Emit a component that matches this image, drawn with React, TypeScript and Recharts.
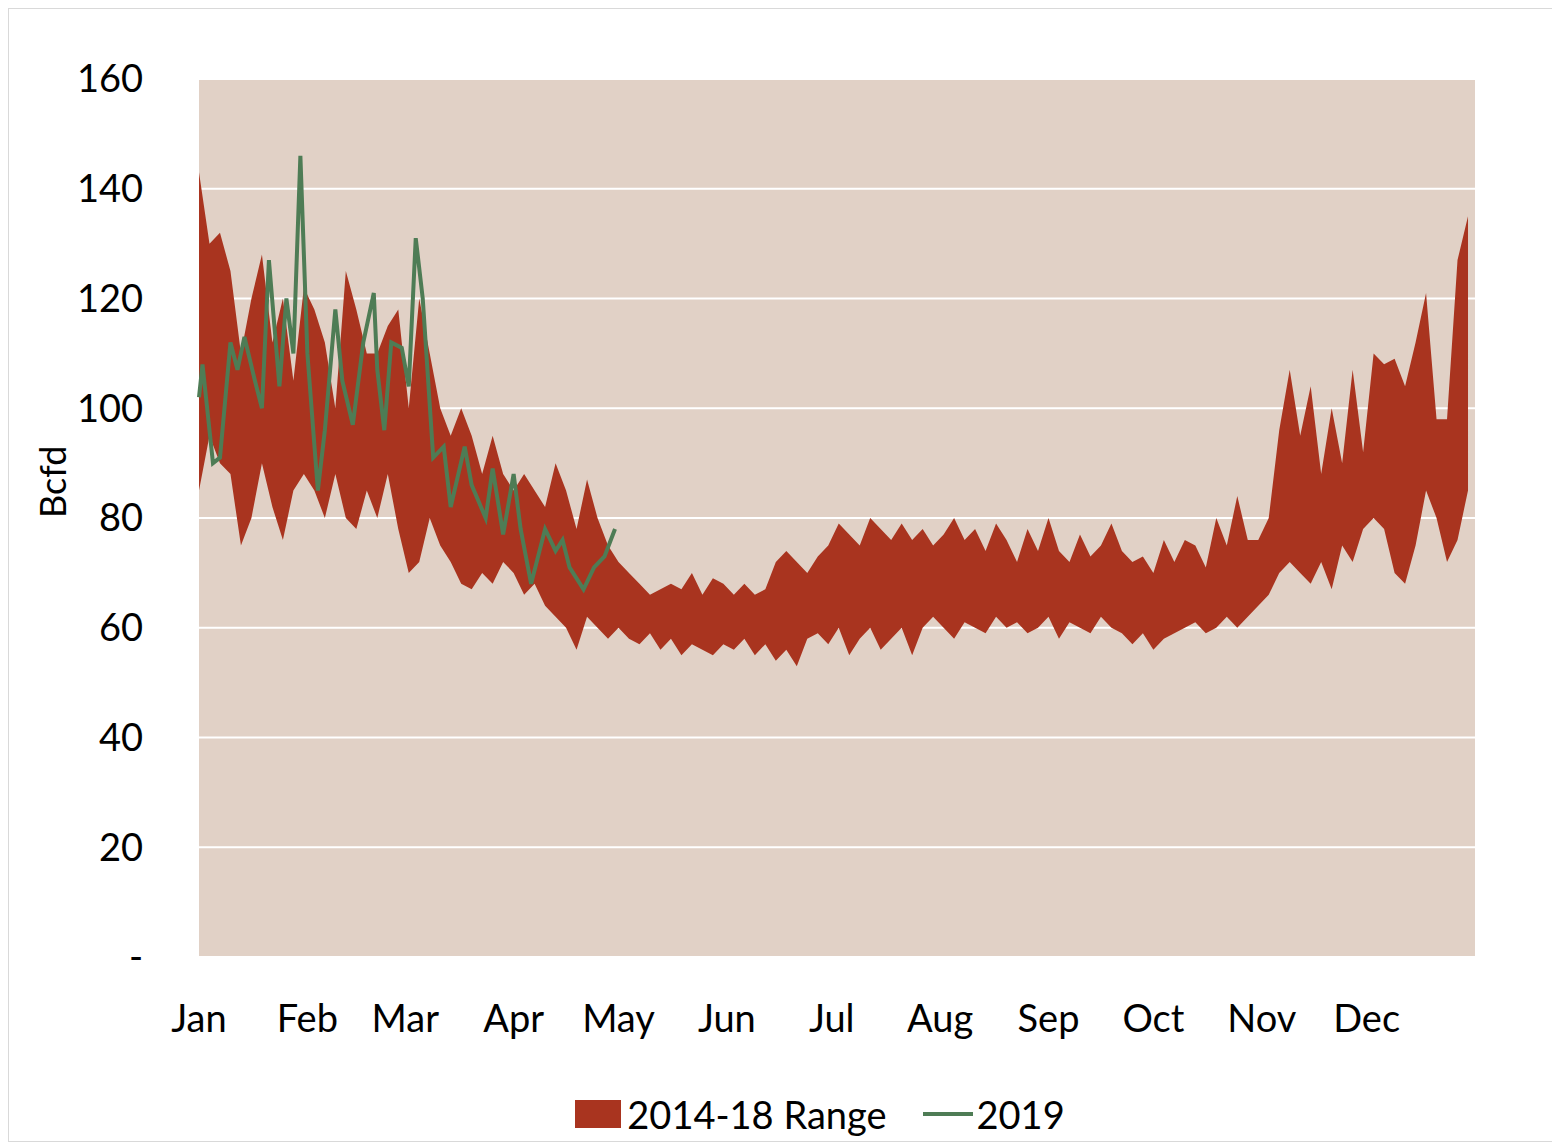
import React from 'react';
import { ComposedChart, Area, Line, XAxis, YAxis, CartesianGrid, Legend } from 'recharts';

const rangeDays = [0,3,6,9,12,15,18,21,24,27,30,33,36,39,42,45,48,51,54,57,60,63,66,69,72,75,78,81,84,87,90,93,96,99,102,105,108,111,114,117,120,123,126,129,132,135,138,141,144,147,150,153,156,159,162,165,168,171,174,177,180,183,186,189,192,195,198,201,204,207,210,213,216,219,222,225,228,231,234,237,240,243,246,249,252,255,258,261,264,267,270,273,276,279,282,285,288,291,294,297,300,303,306,309,312,315,318,321,324,327,330,333,336,339,342,345,348,351,354,357,360,363];
const rangeLow = [85,95,90,88,75,80,90,82,76,85,88,85,80,88,80,78,85,80,88,78,70,72,80,75,72,68,67,70,68,72,70,66,68,64,62,60,56,62,60,58,60,58,57,59,56,58,55,57,56,55,57,56,58,55,57,54,56,53,58,59,57,60,55,58,60,56,58,60,55,60,62,60,58,61,60,59,62,60,61,59,60,62,58,61,60,59,62,60,59,57,59,56,58,59,60,61,59,60,62,60,62,64,66,70,72,70,68,72,67,75,72,78,80,78,70,68,75,85,80,72,76,85];
const rangeHigh = [143,130,132,125,110,120,128,112,120,105,122,118,112,100,125,118,110,110,115,118,100,120,110,100,95,100,95,88,95,88,85,88,85,82,90,85,78,87,80,75,72,70,68,66,67,68,67,70,66,69,68,66,68,66,67,72,74,72,70,73,75,79,77,75,80,78,76,79,76,78,75,77,80,76,78,74,79,76,72,78,74,80,74,72,77,73,75,79,74,72,73,70,76,72,76,75,71,80,75,84,76,76,80,96,107,95,104,88,100,90,107,92,110,108,109,104,112,121,98,98,127,135];

const days2019 = [0,1,4,6,9,11,13,16,18,20,23,25,27,29,31,34,36,39,41,44,47,50,51,53,55,58,60,62,64,67,70,72,76,78,82,84,87,90,92,95,99,102,104,106,110,113,116,119];
const values2019 = [102,108,90,91,112,107,113,105,100,127,104,120,110,146,110,85,96,118,105,97,112,121,107,96,112,111,104,131,120,91,93,82,93,86,80,89,77,88,78,68,78,74,76,71,67,71,73,78];

const monthStarts = [0,31,59,90,120,151,181,212,243,273,304,334];
const monthLabels = ['Jan','Feb','Mar','Apr','May','Jun','Jul','Aug','Sep','Oct','Nov','Dec'];
const yTicks = [0,20,40,60,80,100,120,140,160];

const rangeData = rangeDays.map((d, i) => ({ day: d, range: [rangeLow[i], rangeHigh[i]] }));
const lineData = days2019.map((d, i) => ({ day: d, v: values2019[i] }));

const font = 'Lato, "Open Sans", sans-serif';

const LegendContent = () => (
  <div style={{ display: 'flex', justifyContent: 'center', alignItems: 'center', fontFamily: font, fontSize: 38, color: '#000', paddingLeft: 156 }}>
    <span style={{ display: 'inline-block', width: 46, height: 28, background: '#a9341f', marginRight: 6 }} />
    <span style={{ marginRight: 36 }}>2014-18 Range</span>
    <span style={{ display: 'inline-block', width: 50, height: 4, background: '#4e7c55', marginRight: 4 }} />
    <span>2019</span>
  </div>
);

export default function App() {
  return (
    <div style={{ width: 1552, height: 1134, border: '1px solid #d9d9d9', boxSizing: 'border-box', background: '#fff' }}>
      <ComposedChart width={1550} height={1132} margin={{ top: 70, right: 84, left: 0, bottom: 0 }}>
        <CartesianGrid vertical={false} stroke="#fff" strokeWidth={2} fill="#e1d1c6" />
        <XAxis type="number" dataKey="day" domain={[0, 365]} ticks={monthStarts} allowDuplicatedCategory={false}
          tickFormatter={(v) => monthLabels[monthStarts.indexOf(v)]} tickLine={false} axisLine={false}
          tick={{ fill: '#000', fontSize: 38, fontFamily: font }} tickMargin={42} height={134} />
        <YAxis domain={[0, 160]} ticks={yTicks} tickFormatter={(v) => (v === 0 ? '-' : String(v))}
          tickLine={false} axisLine={false} width={190} tickMargin={50}
          tick={{ fill: '#000', fontSize: 38, fontFamily: font }}
          label={{ value: 'Bcfd', angle: -90, position: 'insideLeft', offset: 44, style: { fontSize: 36, fontFamily: font, fill: '#000' } }} />
        <Legend verticalAlign="bottom" height={50} content={<LegendContent />} />
        <Area data={rangeData} dataKey="range" type="linear" stroke="none" fill="#a9341f" fillOpacity={1} isAnimationActive={false} />
        <Line data={lineData} dataKey="v" type="linear" stroke="#4e7c55" strokeWidth={4} dot={false} isAnimationActive={false} />
      </ComposedChart>
    </div>
  );
}
